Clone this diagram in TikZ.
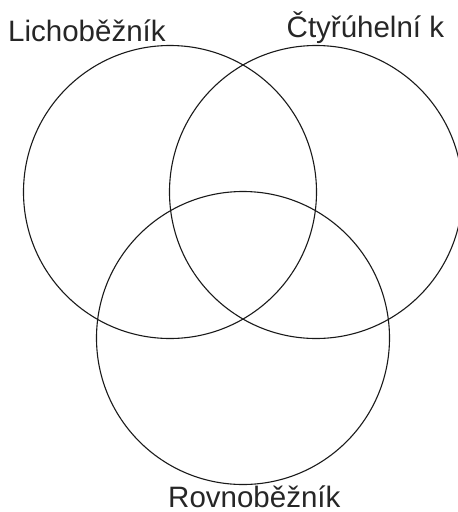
\documentclass[tikz,border=0pt]{standalone}
\usepackage{fontspec}
\setmainfont{Liberation Sans}
\begin{document}
\begin{tikzpicture}[x=1pt,y=-1pt,
  ring/.style={draw=black!90,line width=1.1pt},
  lbl/.style={anchor=base west,inner sep=0pt,font=\fontsize{29.5}{31}\selectfont,text=black!85}]
\useasboundingbox (0,0) rectangle (458,512);
\draw[ring] (170,192) circle[radius=146.5];
\draw[ring] (316,192) circle[radius=146.5];
\draw[ring] (243,338) circle[radius=146.5];
\node[lbl] (a) at (8,41.7) {Lichoběžník};
\node[lbl] (b) at (286.5,37.7) {Čtyřúhelní k};
\node[lbl] (c) at (168,507) {Rovnoběžník};
\end{tikzpicture}
\end{document}
